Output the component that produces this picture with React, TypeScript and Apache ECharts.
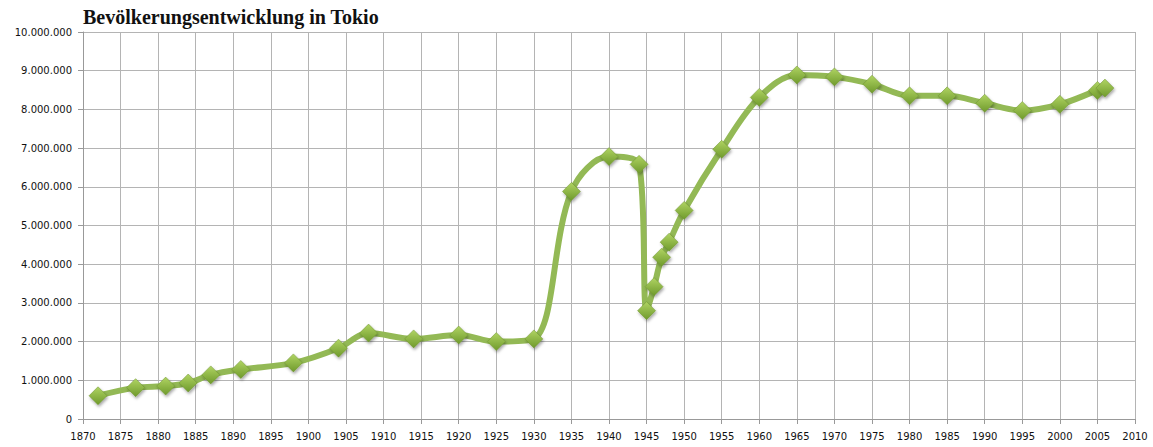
import React, { useEffect, useRef } from "react";
import * as echarts from "echarts";

const years = [1872, 1877, 1881, 1884, 1887, 1891, 1898, 1904, 1908, 1914, 1920, 1925, 1930, 1935, 1940, 1944, 1945, 1946, 1947, 1948, 1950, 1955, 1960, 1965, 1970, 1975, 1980, 1985, 1990, 1995, 2000, 2005, 2006];
const population = [600000, 810000, 850000, 930000, 1140000, 1280000, 1450000, 1830000, 2220000, 2070000, 2170000, 2000000, 2070000, 5880000, 6780000, 6580000, 2800000, 3420000, 4180000, 4570000, 5390000, 6970000, 8310000, 8890000, 8840000, 8650000, 8350000, 8350000, 8160000, 7970000, 8130000, 8490000, 8550000];
const titleText = "Bevölkerungsentwicklung in Tokio";

function fmt(v: number): string {
  return String(Math.round(v)).replace(/\B(?=(\d{3})+(?!\d))/g, ".");
}

export default function App() {
  const ref = useRef<HTMLDivElement>(null);
  useEffect(() => {
    const chart = echarts.init(ref.current!, null, { renderer: "svg" });
    const data = years.map((y, i) => [y, population[i]]);
    chart.setOption({
      animation: false,
      backgroundColor: "#ffffff",
      title: {
        text: titleText,
        left: 83,
        top: 7,
        padding: 0,
        textStyle: { fontFamily: "Liberation Serif", fontWeight: "bold", fontSize: 20, color: "#111" },
      },
      grid: { left: 83, right: 18, top: 32, bottom: 28, containLabel: false },
      xAxis: {
        type: "value",
        min: 1870,
        max: 2010,
        interval: 5,
        axisLine: { show: true, lineStyle: { color: "#999", width: 1 } },
        axisTick: { show: true, length: 5, lineStyle: { color: "#999" } },
        axisLabel: { fontFamily: "DejaVu Sans", fontSize: 10, color: "#111", margin: 12, formatter: (v: number) => String(v) },
        splitLine: { show: true, lineStyle: { color: "#b4b4b4", width: 1 } },
      },
      yAxis: {
        type: "value",
        min: 0,
        max: 10000000,
        interval: 1000000,
        axisLine: { show: true, lineStyle: { color: "#999", width: 1 } },
        axisTick: { show: true, length: 5, lineStyle: { color: "#999" } },
        axisLabel: { fontFamily: "DejaVu Sans", fontSize: 10, color: "#111", margin: 11, formatter: (v: number) => fmt(v) },
        splitLine: { show: true, lineStyle: { color: "#b4b4b4", width: 1 } },
      },
      series: [
        {
          type: "line",
          data,
          smooth: 0.35,
          symbol: "diamond",
          symbolSize: 18,
          lineStyle: { color: "#93b955", width: 6 },
          itemStyle: {
            color: new echarts.graphic.LinearGradient(0, 0, 0, 1, [
              { offset: 0, color: "#b0d463" },
              { offset: 1, color: "#6f9a2c" },
            ]),
            borderColor: "#6d932f",
            borderWidth: 0.5,
            shadowColor: "rgba(0,0,0,0.35)",
            shadowBlur: 3,
            shadowOffsetX: 1,
            shadowOffsetY: 2,
          },
        },
      ],
    });
    return () => chart.dispose();
  }, []);
  return <div ref={ref} style={{ position: "fixed", left: 0, top: 0, width: 1153, height: 447 }} />;
}
